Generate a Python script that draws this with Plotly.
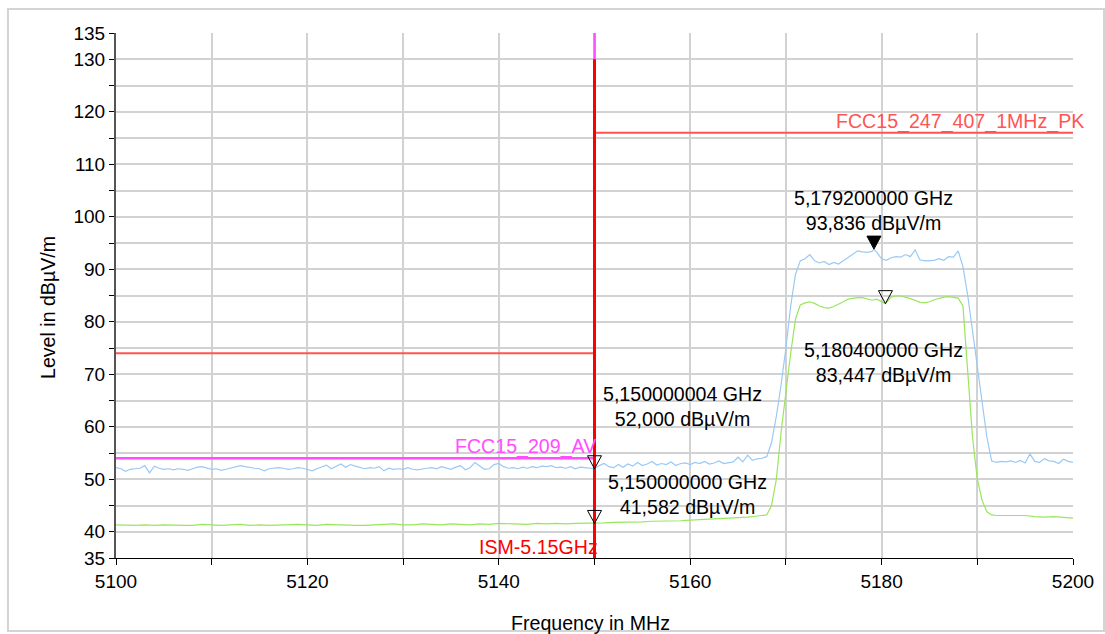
import plotly.graph_objects as go

# ---------------- data ----------------
blue_freq_a = [5100 + 0.5 * i for i in range(101)]          # 5100 .. 5150
blue_lvl_a = [
    52.2, 52.0, 51.5, 51.9, 52.0, 52.1, 52.6, 51.2, 52.5, 52.1, 51.9, 52.0, 51.8, 52.0, 51.9,
    51.7, 52.0, 52.3, 52.4, 52.1, 51.9, 52.0, 51.7, 51.9, 52.1, 52.3, 52.6, 52.4, 52.2, 52.1,
    52.0, 51.6, 52.0, 52.1, 52.2, 52.1, 51.9, 52.0, 52.2, 52.1, 51.8, 51.6, 52.0, 52.3, 52.7,
    52.0, 52.4, 52.9, 52.3, 52.8, 52.5, 52.3, 52.0, 52.2, 52.1, 52.4, 51.6, 52.1, 51.9, 52.0,
    51.9, 52.2, 51.9, 51.8, 52.0, 52.1, 52.2, 52.0, 52.4, 52.1, 51.9, 52.3, 52.6, 51.8, 52.2,
    53.2, 52.5, 51.9, 52.0, 52.8, 53.0, 52.4, 52.1, 52.2, 52.0, 52.3, 52.1, 52.4, 52.2, 52.5,
    52.4, 52.6, 52.2, 52.3, 52.1, 52.4, 52.0, 52.3, 52.2, 52.1, 52.0,
]
blue_freq_b = [5150.5 + 0.5 * i for i in range(36)]         # 5150.5 .. 5168
blue_lvl_b = [
    52.6, 53.0, 52.4, 52.2, 52.8, 52.3, 52.9, 52.5, 53.2, 52.6,
    52.9, 53.4, 52.7, 53.0, 52.8, 53.3, 52.6, 53.0, 53.1, 52.8,
    53.2, 53.0, 53.4, 52.9, 53.1, 53.5, 53.0, 53.2, 53.3, 54.2,
    53.3, 54.6, 53.6, 53.9, 54.0, 54.3,
]
blue_freq_c = [
    5168.5, 5169, 5169.5, 5170, 5170.5, 5171, 5171.5, 5172, 5172.5, 5173, 5173.5, 5174,
    5174.5, 5175, 5175.5, 5176, 5176.5, 5177, 5177.5, 5178, 5178.5, 5179, 5179.2, 5179.5,
    5180, 5180.5, 5181, 5181.5, 5182, 5182.5, 5183, 5183.5, 5184, 5184.5, 5185, 5185.5,
    5186, 5186.5, 5187, 5187.5, 5188, 5188.5, 5189, 5189.5, 5190, 5190.5, 5191, 5191.5,
    5192, 5192.5, 5193, 5193.5, 5194, 5194.5, 5195, 5195.5, 5196, 5196.5, 5197, 5197.5,
    5198, 5198.5, 5199, 5199.5, 5200,
]
blue_lvl_c = [
    57.0, 62.0, 68.0, 75.0, 83.0, 89.0, 91.6, 92.0, 92.8, 91.6, 91.2, 91.5,
    90.9, 91.3, 91.0, 91.6, 92.2, 92.8, 93.5, 93.3, 93.2, 93.4, 93.836, 93.2,
    92.0, 91.7, 92.2, 92.4, 92.3, 92.8, 92.4, 93.7, 91.8, 91.6, 91.6, 91.7,
    92.0, 91.7, 92.4, 92.3, 93.5, 90.5, 85.0, 78.0, 71.0, 65.0, 58.0, 53.5,
    53.2, 53.4, 53.3, 53.5, 53.2, 53.6, 53.1, 54.8, 53.4, 53.2, 53.9, 53.5,
    53.4, 53.0, 53.8, 53.4, 53.2,
]

green_freq_a = [5100 + i for i in range(69)]                 # 5100 .. 5168
green_lvl_a = [
    41.3, 41.2, 41.2, 41.3, 41.2, 41.3, 41.2, 41.2, 41.2, 41.4, 41.3, 41.2, 41.3, 41.4, 41.2,
    41.3, 41.2, 41.3, 41.3, 41.4, 41.3, 41.2, 41.4, 41.3, 41.3, 41.2, 41.2, 41.3, 41.4, 41.5,
    41.3, 41.3, 41.5, 41.4, 41.3, 41.5, 41.4, 41.3, 41.5, 41.4, 41.6, 41.5, 41.5, 41.4, 41.6,
    41.5, 41.6, 41.5, 41.6, 41.6, 41.582,
    41.7, 41.8, 41.8, 41.9, 41.9, 42.0, 42.0, 42.1, 42.1, 42.2, 42.3, 42.3, 42.4, 42.5, 42.6,
    42.8, 43.0, 43.2,
]
green_freq_b = [
    5168.5, 5169, 5169.5, 5170, 5170.5, 5171, 5171.5, 5172, 5172.5, 5173, 5173.5, 5174,
    5174.5, 5175, 5175.5, 5176, 5176.5, 5177, 5177.5, 5178, 5178.5, 5179, 5179.5, 5180,
    5180.4, 5181, 5181.5, 5182, 5182.5, 5183, 5183.5, 5184, 5184.5, 5185, 5185.5, 5186,
    5186.5, 5187, 5187.5, 5188, 5188.5, 5189, 5189.5, 5190, 5190.5, 5191, 5191.5,
    5192, 5193, 5194, 5195, 5196, 5197, 5198, 5199, 5200,
]
green_lvl_b = [
    45.0, 50.0, 59.0, 67.0, 74.0, 80.5, 83.2, 83.6, 83.8, 83.5, 83.0, 82.7,
    82.6, 82.9, 83.3, 83.8, 84.3, 84.5, 84.6, 84.6, 84.4, 84.1, 84.3, 83.9,
    83.447, 84.7, 84.9, 84.9, 84.7, 84.4, 84.1, 83.7, 83.6, 83.8, 84.2, 84.5,
    84.7, 84.8, 84.7, 84.5, 83.0, 70.0, 58.0, 50.0, 46.0, 43.8, 43.2,
    43.1, 43.1, 43.0, 43.1, 42.9, 42.8, 42.9, 42.7, 42.6,
]

# limit lines
av_limit_freq = [5100, 5150, 5150]
av_limit_lvl = [54, 54, 140]
pk_limit_freq = [5100, 5150, 5150, 5200]
pk_limit_lvl = [74, 74, 116, 116]
ism_freq = [5150, 5150]
ism_lvl = [35, 130]

# markers
marker_freq = [5150.000004, 5150.0, 5179.2, 5180.4]
marker_lvl = [52.000, 41.582, 93.836, 83.447]
marker_filled = [False, False, True, False]

x_tick_vals = [5100, 5110, 5120, 5130, 5140, 5150, 5160, 5170, 5180, 5190, 5200]
x_tick_text = ["5100", "", "5120", "", "5140", "", "5160", "", "5180", "", "5200"]
y_tick_vals = [35, 40, 45, 50, 55, 60, 65, 70, 75, 80, 85, 90, 95, 100, 105, 110,
               115, 120, 125, 130, 135]
y_tick_text = ["35", "40", "", "50", "", "60", "", "70", "", "80", "", "90", "", "100",
               "", "110", "", "120", "", "130", "135"]

FONT = "Liberation Sans, Arial, sans-serif"
FS = 19
FA = 19.6

BLUE = "#99c9f5"
GREEN = "#99e65c"
RED = "#ff0000"
PKRED = "#ff5454"
MAG = "#ff4dff"

fig = go.Figure()
fig.add_trace(go.Scatter(x=blue_freq_a + blue_freq_b + blue_freq_c,
                         y=blue_lvl_a + blue_lvl_b + blue_lvl_c,
                         mode="lines", line=dict(color=BLUE, width=1.2), hoverinfo="skip"))
fig.add_trace(go.Scatter(x=green_freq_a + green_freq_b, y=green_lvl_a + green_lvl_b,
                         mode="lines", line=dict(color=GREEN, width=1.2), hoverinfo="skip"))
fig.add_trace(go.Scatter(x=av_limit_freq, y=av_limit_lvl, mode="lines",
                         line=dict(color=MAG, width=2.5), hoverinfo="skip"))
fig.add_trace(go.Scatter(x=pk_limit_freq, y=pk_limit_lvl, mode="lines",
                         line=dict(color=PKRED, width=2), hoverinfo="skip"))
fig.add_trace(go.Scatter(x=ism_freq, y=ism_lvl, mode="lines",
                         line=dict(color=RED, width=3), hoverinfo="skip"))

shapes = []
for f, v, filled in zip(marker_freq, marker_lvl, marker_filled):
    shapes.append(dict(
        type="path", xref="x", yref="y", xsizemode="pixel", ysizemode="pixel",
        xanchor=f, yanchor=v, path="M -7 13 L 7 13 L 0 0 Z",
        fillcolor="black" if filled else "rgba(0,0,0,0)",
        line=dict(color="black", width=1)))
# outer frame
shapes.append(dict(type="rect", xref="paper", yref="paper",
                   x0=-0.1129, x1=1.0324, y0=-0.139, y1=1.0457,
                   line=dict(color="#d4d4d4", width=2), layer="below"))


def mlabel(f, v):
    return (f"{f / 1000:.9f}".replace(".", ",") + " GHz<br>" +
            f"{v:.3f}".replace(".", ",") + " dBµV/m")


label_pos = [  # xanchor, xshift, yanchor, yshift
    ("left", 6, "bottom", 37),
    ("left", 11, "bottom", 3),
    ("center", 0, "bottom", 13),
    ("center", -2, "top", -33),
]
annotations = []
for f, v, (xa, xs, ya, ys) in zip(marker_freq, marker_lvl, label_pos):
    annotations.append(dict(x=f, y=v, xref="x", yref="y", text=mlabel(f, v),
                            showarrow=False, xanchor=xa, xshift=xs, yanchor=ya, yshift=ys,
                            align="center", font=dict(family=FONT, size=FA, color="black")))

annotations += [
    dict(x=5150, y=54, xref="x", yref="y", text="FCC15_209_AV", showarrow=False,
         xanchor="right", xshift=3, yanchor="bottom", yshift=-2,
         font=dict(family=FONT, size=FA, color=MAG)),
    dict(x=5200, y=116, xref="x", yref="y", text="FCC15_247_407_1MHz_PK", showarrow=False,
         xanchor="right", xshift=13, yanchor="bottom", yshift=-2,
         font=dict(family=FONT, size=FA, color=PKRED)),
    dict(x=5150, y=35, xref="x", yref="y", text="ISM-5.15GHz", showarrow=False,
         xanchor="right", xshift=5, yanchor="middle", yshift=11,
         font=dict(family=FONT, size=FA, color=RED)),
    dict(x=-0.0711, y=0.478, xref="paper", yref="paper", text="Level in dBµV/m",
         showarrow=False, textangle=-90, xanchor="center", yanchor="middle",
         font=dict(family=FONT, size=FA, color="black")),
    dict(x=0.4963, y=-0.1238, xref="paper", yref="paper", text="Frequency in MHz",
         showarrow=False, xanchor="center", yanchor="middle",
         font=dict(family=FONT, size=FA, color="black")),
]

fig.update_layout(
    width=1105, height=634,
    margin=dict(l=116, r=32, t=33, b=76),
    paper_bgcolor="white", plot_bgcolor="white",
    showlegend=False,
    shapes=shapes, annotations=annotations,
    font=dict(family=FONT, size=FS, color="black"),
)
fig.update_xaxes(range=[5100, 5200], tickvals=x_tick_vals, ticktext=x_tick_text,
                 ticks="outside", ticklen=6, tickcolor="black", tickwidth=1,
                 showline=True, linecolor="black", linewidth=1,
                 showgrid=True, gridcolor="#d2d2d2", gridwidth=1.5, zeroline=False,
                 tickfont=dict(family=FONT, size=FS, color="black"))
fig.update_yaxes(range=[35, 135], tickvals=y_tick_vals, ticktext=y_tick_text,
                 ticks="outside", ticklen=5, tickcolor="black", tickwidth=1,
                 showline=True, linecolor="#555555", linewidth=2,
                 showgrid=True, gridcolor="#d2d2d2", gridwidth=1.5, zeroline=False,
                 tickfont=dict(family=FONT, size=FS, color="black"))

fig.write_html("out.html", config={"displayModeBar": False},
               post_script="document.body.style.margin='0';")
